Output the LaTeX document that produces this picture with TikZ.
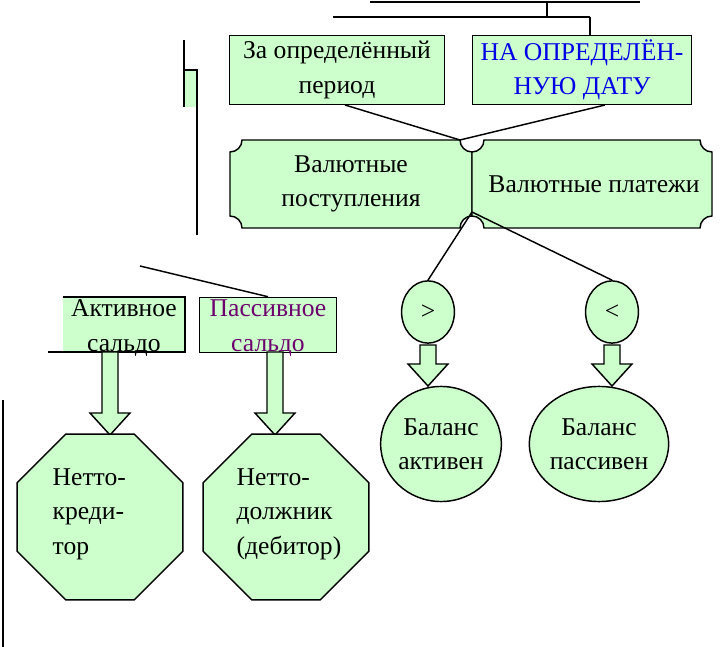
\documentclass[tikz,border=0pt]{standalone}
\usepackage{fontspec}
\setmainfont{Liberation Serif}
\usetikzlibrary{shapes.geometric}

\definecolor{pale}{RGB}{204,255,204}
\definecolor{datablue}{RGB}{0,0,230}
\definecolor{plum}{RGB}{110,0,110}

\tikzset{
  box/.style={draw, line width=1.1pt, fill=pale, align=center, inner sep=0pt},
  oval/.style={draw, line width=1.1pt, fill=pale, ellipse, align=center, inner sep=0pt},
  octa/.style={draw, line width=1.1pt, fill=pale, regular polygon, regular polygon sides=8,
    minimum size=4.75cm, inner sep=0pt, outer sep=0pt},
  fat/.style={draw, line width=1.1pt, fill=pale},
  link/.style={line width=1.1pt}
}
\newcommand{\scrollbox}[5]{%
  \draw[line width=1.1pt, fill=pale] (#1,#2+#5) arc(90:0:#5) -- (#3-#5,#2) arc(180:90:#5)
    -- (#3,#4-#5) arc(270:180:#5) -- (#1+#5,#4) arc(0:-90:#5) -- cycle;}
\newcommand{\blockarrow}[3]{%
  \draw[fat] (#1-8,#2) -- (#1+8,#2) -- (#1+8,#3-22) -- (#1+20,#3-22) -- (#1,#3)
    -- (#1-20,#3-22) -- (#1-8,#3-22) -- cycle;}

\begin{document}
\begin{tikzpicture}[x=0.0265cm, y=-0.0265cm, font=\fontsize{19.3}{26}\selectfont]
\useasboundingbox (0,0) rectangle (720,647);

%% top level fragments
\coordinate (top_a) at (370,2);
\coordinate (top_b) at (640,2);
\coordinate (top_c) at (547,2);
\coordinate (top_d) at (547,17);
\coordinate (top_e) at (333,17);
\coordinate (top_f) at (590,17);
\draw[line width=2pt] (top_a) -- (top_b);
\draw[link] (top_c) -- (top_d);
\draw[link] (top_e) -- (top_f);

%% left fragments
\fill[pale] (184,70) rectangle (197,107);
\coordinate (lf_a) at (184,40);
\coordinate (lf_b) at (184,107);
\coordinate (lf_c) at (197,70);
\coordinate (lf_d) at (197,235);
\draw[link] (lf_a) -- (lf_b);
\draw[link] (lf_b |- lf_c) -- (lf_c) -- (lf_d);
\draw[line width=2.2pt] (3,400) -- (3,647);

%% period boxes
\node[box, minimum width=5.7cm, minimum height=1.82cm] (period) at (337,70)
  {За определённый\\период};
\node[box, minimum width=5.8cm, minimum height=1.82cm, text=datablue] (date) at (582,70)
  {НА ОПРЕДЕЛЁН-\\НУЮ ДАТУ};
\draw[link] (top_f) -- (date.north -| top_f);

%% flows
\scrollbox{230}{140}{472}{228}{12}
\scrollbox{472}{140}{712}{228}{12}
\node[align=center] (inflow) at (351,184) {Валютные\\поступления};
\node (outflow) at (594,184) {Валютные платежи};
\coordinate (join) at (460,140);
\coordinate (fork) at (472,212);
\draw[link] (345,105) -- (join) -- (605,105);

%% balance
\node[oval, minimum width=1.4cm, minimum height=1.65cm] (more) at (428,312) {>};
\node[oval, minimum width=1.4cm, minimum height=1.65cm] (less) at (612,312) {<};
\draw[link] (fork) -- (more.north);
\draw[link] (fork) -- (less.north);
\blockarrow{428}{345}{386}
\blockarrow{612}{345}{386}
\node[oval, minimum width=3.1cm, minimum height=3.05cm] (active) at (441,444)
  {Баланс\\активен};
\node[oval, minimum width=3.2cm, minimum height=3.05cm] (passive) at (599,444)
  {Баланс\\пассивен};

%% saldo
\fill[pale] (63,297) rectangle (185,352);
\draw[link] (63,297) -- (185,297) -- (185,352) -- (48,352);
\node[align=center] (act_saldo) at (124,328) {Активное\\сальдо};
\node[box, minimum width=3.63cm, minimum height=1.46cm, text=plum] (pas_saldo) at (268,325)
  {};
\node[align=center, text=plum] (pas_saldo_t) at (268,328) {Пассивное\\сальдо};
\draw[link] (140,266) -- (pas_saldo.north);
\blockarrow{110}{352}{435}
\blockarrow{275}{352}{435}
\node[octa] (creditor) at (100,517) {};
\node[octa] (debtor) at (286,517) {};
\node[align=left, anchor=north west] (creditor_t) at (48,464) {Нетто-\\креди-\\тор};
\node[align=left, anchor=north west] (debtor_t) at (232,464) {Нетто-\\должник\\(дебитор)};

\end{tikzpicture}
\end{document}
